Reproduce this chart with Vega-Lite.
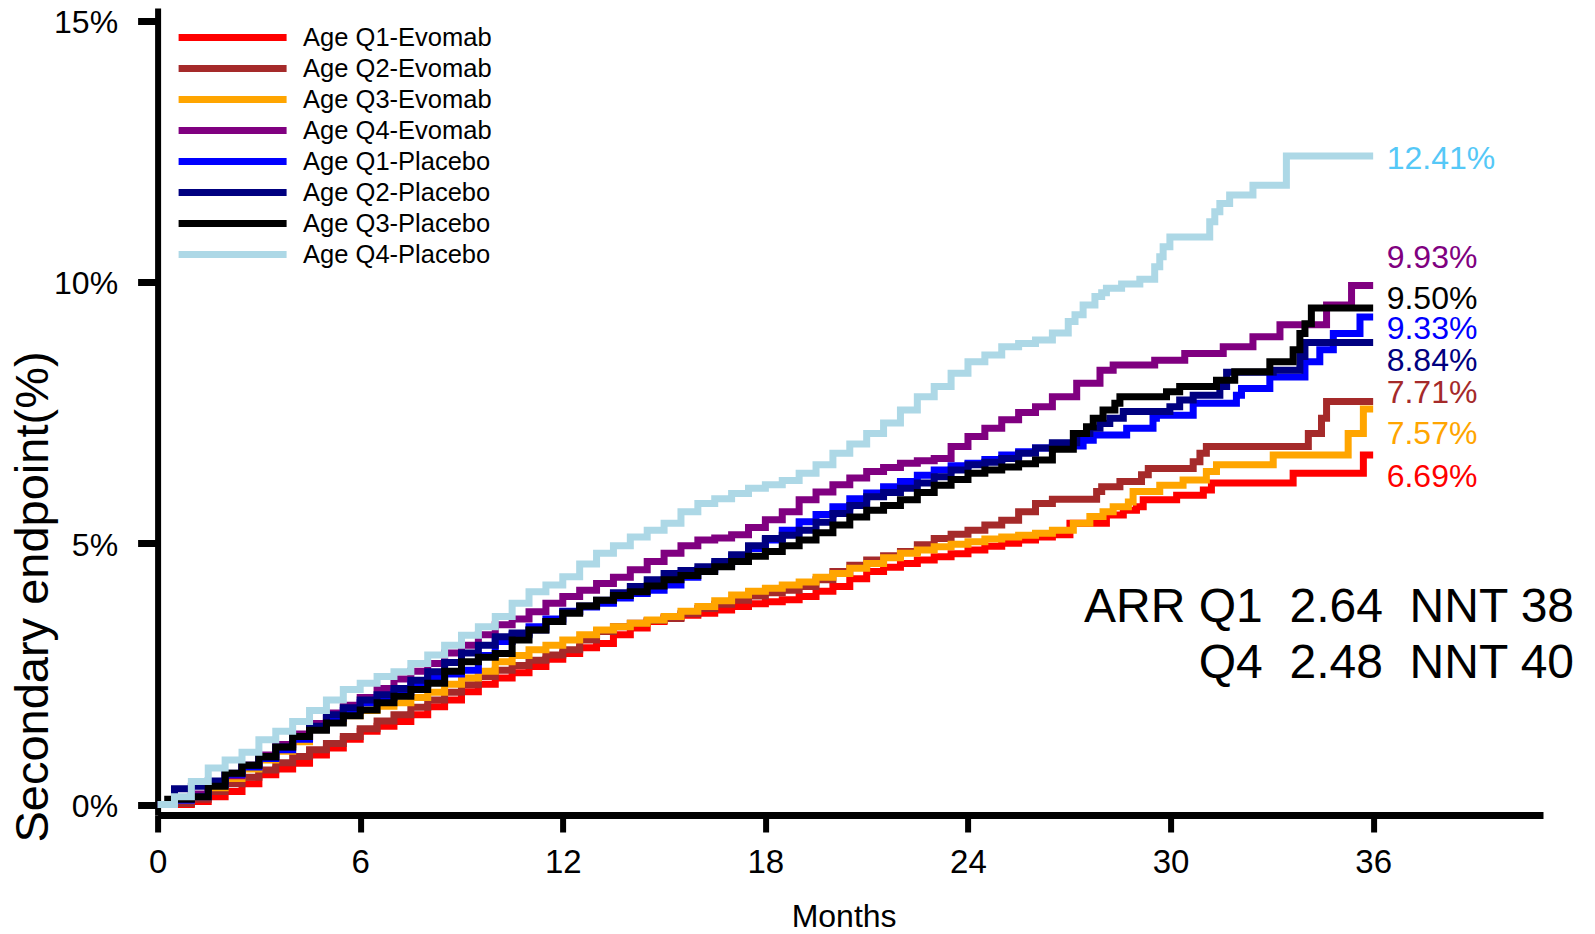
{
"$schema":"https://vega.github.io/schema/vega-lite/v6.json",
"width":1385.4,"height":807,
"autosize":{"type":"none"},
"padding":{"left":157.6,"top":8,"right":52,"bottom":119},
"config":{"font":"Liberation Sans","view":{"stroke":null},"axis":{"grid":false,"domainColor":"#000","tickColor":"#000","labelColor":"#000","titleColor":"#000","titleFontWeight":"normal"}},
"datasets":{
"curves":[
{"s":"Age Q1-Evomab","m":0,"p":0},{"s":"Age Q1-Evomab","m":0.5,"p":0},{"s":"Age Q1-Evomab","m":1,"p":0.06},{"s":"Age Q1-Evomab","m":1.5,"p":0.15},{"s":"Age Q1-Evomab","m":2,"p":0.25},{"s":"Age Q1-Evomab","m":2.5,"p":0.4},{"s":"Age Q1-Evomab","m":3,"p":0.57},{"s":"Age Q1-Evomab","m":3.5,"p":0.68},{"s":"Age Q1-Evomab","m":4,"p":0.79},{"s":"Age Q1-Evomab","m":4.5,"p":0.95},{"s":"Age Q1-Evomab","m":5,"p":1.08},{"s":"Age Q1-Evomab","m":5.5,"p":1.25},{"s":"Age Q1-Evomab","m":6,"p":1.4},{"s":"Age Q1-Evomab","m":6.5,"p":1.5},{"s":"Age Q1-Evomab","m":7,"p":1.59},{"s":"Age Q1-Evomab","m":7.5,"p":1.72},{"s":"Age Q1-Evomab","m":8,"p":1.87},{"s":"Age Q1-Evomab","m":8.5,"p":2.0},{"s":"Age Q1-Evomab","m":9,"p":2.16},{"s":"Age Q1-Evomab","m":9.5,"p":2.3},{"s":"Age Q1-Evomab","m":10,"p":2.42},{"s":"Age Q1-Evomab","m":10.5,"p":2.52},{"s":"Age Q1-Evomab","m":11,"p":2.64},{"s":"Age Q1-Evomab","m":11.5,"p":2.78},{"s":"Age Q1-Evomab","m":12,"p":2.89},{"s":"Age Q1-Evomab","m":12.5,"p":3.0},{"s":"Age Q1-Evomab","m":13,"p":3.08},{"s":"Age Q1-Evomab","m":13.5,"p":3.25},{"s":"Age Q1-Evomab","m":14,"p":3.38},{"s":"Age Q1-Evomab","m":14.5,"p":3.5},{"s":"Age Q1-Evomab","m":15,"p":3.58},{"s":"Age Q1-Evomab","m":15.5,"p":3.62},{"s":"Age Q1-Evomab","m":16,"p":3.66},{"s":"Age Q1-Evomab","m":16.5,"p":3.72},{"s":"Age Q1-Evomab","m":17,"p":3.79},{"s":"Age Q1-Evomab","m":17.5,"p":3.84},{"s":"Age Q1-Evomab","m":18,"p":3.88},{"s":"Age Q1-Evomab","m":18.5,"p":3.92},{"s":"Age Q1-Evomab","m":19,"p":3.98},{"s":"Age Q1-Evomab","m":19.5,"p":4.08},{"s":"Age Q1-Evomab","m":20,"p":4.17},{"s":"Age Q1-Evomab","m":20.5,"p":4.32},{"s":"Age Q1-Evomab","m":21,"p":4.46},{"s":"Age Q1-Evomab","m":21.5,"p":4.54},{"s":"Age Q1-Evomab","m":22,"p":4.61},{"s":"Age Q1-Evomab","m":22.5,"p":4.68},{"s":"Age Q1-Evomab","m":23,"p":4.74},{"s":"Age Q1-Evomab","m":23.5,"p":4.8},{"s":"Age Q1-Evomab","m":24,"p":4.87},{"s":"Age Q1-Evomab","m":24.5,"p":4.94},{"s":"Age Q1-Evomab","m":25,"p":5.0},{"s":"Age Q1-Evomab","m":25.5,"p":5.06},{"s":"Age Q1-Evomab","m":26,"p":5.12},{"s":"Age Q1-Evomab","m":26.5,"p":5.16},{"s":"Age Q1-Evomab","m":27.02,"p":5.38},{"s":"Age Q1-Evomab","m":28.1,"p":5.54},{"s":"Age Q1-Evomab","m":28.6,"p":5.63},{"s":"Age Q1-Evomab","m":28.99,"p":5.7},{"s":"Age Q1-Evomab","m":29.19,"p":5.83},{"s":"Age Q1-Evomab","m":30.18,"p":5.92},{"s":"Age Q1-Evomab","m":30.97,"p":6.02},{"s":"Age Q1-Evomab","m":31.21,"p":6.15},{"s":"Age Q1-Evomab","m":33.63,"p":6.34},{"s":"Age Q1-Evomab","m":35.71,"p":6.69},{"s":"Age Q1-Evomab","m":36,"p":6.69},
{"s":"Age Q2-Evomab","m":0,"p":0},{"s":"Age Q2-Evomab","m":0.5,"p":0.02},{"s":"Age Q2-Evomab","m":1,"p":0.1},{"s":"Age Q2-Evomab","m":1.5,"p":0.25},{"s":"Age Q2-Evomab","m":2,"p":0.4},{"s":"Age Q2-Evomab","m":2.5,"p":0.52},{"s":"Age Q2-Evomab","m":3,"p":0.66},{"s":"Age Q2-Evomab","m":3.5,"p":0.8},{"s":"Age Q2-Evomab","m":4,"p":0.92},{"s":"Age Q2-Evomab","m":4.5,"p":1.05},{"s":"Age Q2-Evomab","m":5,"p":1.17},{"s":"Age Q2-Evomab","m":5.5,"p":1.3},{"s":"Age Q2-Evomab","m":6,"p":1.45},{"s":"Age Q2-Evomab","m":6.5,"p":1.6},{"s":"Age Q2-Evomab","m":7,"p":1.72},{"s":"Age Q2-Evomab","m":7.5,"p":1.86},{"s":"Age Q2-Evomab","m":8,"p":2.0},{"s":"Age Q2-Evomab","m":8.5,"p":2.15},{"s":"Age Q2-Evomab","m":9,"p":2.29},{"s":"Age Q2-Evomab","m":9.5,"p":2.45},{"s":"Age Q2-Evomab","m":10,"p":2.57},{"s":"Age Q2-Evomab","m":10.5,"p":2.66},{"s":"Age Q2-Evomab","m":11,"p":2.76},{"s":"Age Q2-Evomab","m":11.5,"p":2.86},{"s":"Age Q2-Evomab","m":12,"p":2.96},{"s":"Age Q2-Evomab","m":12.5,"p":3.15},{"s":"Age Q2-Evomab","m":13,"p":3.31},{"s":"Age Q2-Evomab","m":13.5,"p":3.4},{"s":"Age Q2-Evomab","m":14,"p":3.47},{"s":"Age Q2-Evomab","m":14.5,"p":3.52},{"s":"Age Q2-Evomab","m":15,"p":3.56},{"s":"Age Q2-Evomab","m":15.5,"p":3.65},{"s":"Age Q2-Evomab","m":16,"p":3.75},{"s":"Age Q2-Evomab","m":16.5,"p":3.83},{"s":"Age Q2-Evomab","m":17,"p":3.91},{"s":"Age Q2-Evomab","m":17.5,"p":3.99},{"s":"Age Q2-Evomab","m":18,"p":4.05},{"s":"Age Q2-Evomab","m":18.5,"p":4.1},{"s":"Age Q2-Evomab","m":19,"p":4.17},{"s":"Age Q2-Evomab","m":19.5,"p":4.3},{"s":"Age Q2-Evomab","m":20,"p":4.46},{"s":"Age Q2-Evomab","m":20.5,"p":4.58},{"s":"Age Q2-Evomab","m":21,"p":4.68},{"s":"Age Q2-Evomab","m":21.5,"p":4.76},{"s":"Age Q2-Evomab","m":22,"p":4.84},{"s":"Age Q2-Evomab","m":22.5,"p":4.97},{"s":"Age Q2-Evomab","m":23,"p":5.09},{"s":"Age Q2-Evomab","m":23.5,"p":5.17},{"s":"Age Q2-Evomab","m":24,"p":5.25},{"s":"Age Q2-Evomab","m":24.5,"p":5.35},{"s":"Age Q2-Evomab","m":25,"p":5.44},{"s":"Age Q2-Evomab","m":25.5,"p":5.6},{"s":"Age Q2-Evomab","m":26,"p":5.76},{"s":"Age Q2-Evomab","m":26.5,"p":5.84},{"s":"Age Q2-Evomab","m":27.81,"p":5.99},{"s":"Age Q2-Evomab","m":27.96,"p":6.08},{"s":"Age Q2-Evomab","m":28.5,"p":6.18},{"s":"Age Q2-Evomab","m":29.14,"p":6.31},{"s":"Age Q2-Evomab","m":29.34,"p":6.43},{"s":"Age Q2-Evomab","m":30.67,"p":6.56},{"s":"Age Q2-Evomab","m":30.87,"p":6.72},{"s":"Age Q2-Evomab","m":31.06,"p":6.85},{"s":"Age Q2-Evomab","m":34.08,"p":7.1},{"s":"Age Q2-Evomab","m":34.47,"p":7.39},{"s":"Age Q2-Evomab","m":34.62,"p":7.71},{"s":"Age Q2-Evomab","m":36,"p":7.71},
{"s":"Age Q3-Evomab","m":0,"p":0},{"s":"Age Q3-Evomab","m":0.5,"p":0.08},{"s":"Age Q3-Evomab","m":1,"p":0.15},{"s":"Age Q3-Evomab","m":1.5,"p":0.32},{"s":"Age Q3-Evomab","m":2,"p":0.5},{"s":"Age Q3-Evomab","m":2.5,"p":0.68},{"s":"Age Q3-Evomab","m":3,"p":0.85},{"s":"Age Q3-Evomab","m":3.5,"p":1.02},{"s":"Age Q3-Evomab","m":4,"p":1.2},{"s":"Age Q3-Evomab","m":4.5,"p":1.45},{"s":"Age Q3-Evomab","m":5,"p":1.6},{"s":"Age Q3-Evomab","m":5.5,"p":1.7},{"s":"Age Q3-Evomab","m":6,"p":1.8},{"s":"Age Q3-Evomab","m":6.5,"p":1.88},{"s":"Age Q3-Evomab","m":7,"p":1.95},{"s":"Age Q3-Evomab","m":7.5,"p":2.05},{"s":"Age Q3-Evomab","m":8,"p":2.15},{"s":"Age Q3-Evomab","m":8.5,"p":2.3},{"s":"Age Q3-Evomab","m":9,"p":2.42},{"s":"Age Q3-Evomab","m":9.5,"p":2.55},{"s":"Age Q3-Evomab","m":10,"p":2.73},{"s":"Age Q3-Evomab","m":10.5,"p":2.85},{"s":"Age Q3-Evomab","m":11,"p":2.96},{"s":"Age Q3-Evomab","m":11.5,"p":3.05},{"s":"Age Q3-Evomab","m":12,"p":3.15},{"s":"Age Q3-Evomab","m":12.5,"p":3.25},{"s":"Age Q3-Evomab","m":13,"p":3.34},{"s":"Age Q3-Evomab","m":13.5,"p":3.4},{"s":"Age Q3-Evomab","m":14,"p":3.47},{"s":"Age Q3-Evomab","m":14.5,"p":3.53},{"s":"Age Q3-Evomab","m":15,"p":3.6},{"s":"Age Q3-Evomab","m":15.5,"p":3.7},{"s":"Age Q3-Evomab","m":16,"p":3.79},{"s":"Age Q3-Evomab","m":16.5,"p":3.9},{"s":"Age Q3-Evomab","m":17,"p":4.01},{"s":"Age Q3-Evomab","m":17.5,"p":4.08},{"s":"Age Q3-Evomab","m":18,"p":4.14},{"s":"Age Q3-Evomab","m":18.5,"p":4.2},{"s":"Age Q3-Evomab","m":19,"p":4.26},{"s":"Age Q3-Evomab","m":19.5,"p":4.35},{"s":"Age Q3-Evomab","m":20,"p":4.42},{"s":"Age Q3-Evomab","m":20.5,"p":4.52},{"s":"Age Q3-Evomab","m":21,"p":4.61},{"s":"Age Q3-Evomab","m":21.5,"p":4.72},{"s":"Age Q3-Evomab","m":22,"p":4.81},{"s":"Age Q3-Evomab","m":22.5,"p":4.87},{"s":"Age Q3-Evomab","m":23,"p":4.93},{"s":"Age Q3-Evomab","m":23.5,"p":4.98},{"s":"Age Q3-Evomab","m":24,"p":5.03},{"s":"Age Q3-Evomab","m":24.5,"p":5.08},{"s":"Age Q3-Evomab","m":25,"p":5.12},{"s":"Age Q3-Evomab","m":25.5,"p":5.15},{"s":"Age Q3-Evomab","m":26,"p":5.19},{"s":"Age Q3-Evomab","m":26.5,"p":5.25},{"s":"Age Q3-Evomab","m":27.12,"p":5.38},{"s":"Age Q3-Evomab","m":27.61,"p":5.51},{"s":"Age Q3-Evomab","m":28.0,"p":5.6},{"s":"Age Q3-Evomab","m":28.3,"p":5.7},{"s":"Age Q3-Evomab","m":28.75,"p":5.79},{"s":"Age Q3-Evomab","m":28.89,"p":5.99},{"s":"Age Q3-Evomab","m":29.68,"p":6.11},{"s":"Age Q3-Evomab","m":30.37,"p":6.21},{"s":"Age Q3-Evomab","m":31.06,"p":6.37},{"s":"Age Q3-Evomab","m":31.36,"p":6.5},{"s":"Age Q3-Evomab","m":33.04,"p":6.69},{"s":"Age Q3-Evomab","m":35.26,"p":7.1},{"s":"Age Q3-Evomab","m":35.71,"p":7.57},{"s":"Age Q3-Evomab","m":36,"p":7.57},
{"s":"Age Q4-Evomab","m":0,"p":0},{"s":"Age Q4-Evomab","m":0.5,"p":0.1},{"s":"Age Q4-Evomab","m":1,"p":0.2},{"s":"Age Q4-Evomab","m":1.5,"p":0.4},{"s":"Age Q4-Evomab","m":2,"p":0.55},{"s":"Age Q4-Evomab","m":2.5,"p":0.75},{"s":"Age Q4-Evomab","m":3,"p":0.95},{"s":"Age Q4-Evomab","m":3.5,"p":1.15},{"s":"Age Q4-Evomab","m":4,"p":1.35},{"s":"Age Q4-Evomab","m":4.5,"p":1.55},{"s":"Age Q4-Evomab","m":5,"p":1.75},{"s":"Age Q4-Evomab","m":5.5,"p":1.9},{"s":"Age Q4-Evomab","m":6,"p":2.05},{"s":"Age Q4-Evomab","m":6.5,"p":2.22},{"s":"Age Q4-Evomab","m":7,"p":2.4},{"s":"Age Q4-Evomab","m":7.5,"p":2.55},{"s":"Age Q4-Evomab","m":8,"p":2.7},{"s":"Age Q4-Evomab","m":8.5,"p":2.9},{"s":"Age Q4-Evomab","m":9,"p":3.05},{"s":"Age Q4-Evomab","m":9.5,"p":3.25},{"s":"Age Q4-Evomab","m":10,"p":3.44},{"s":"Age Q4-Evomab","m":10.5,"p":3.55},{"s":"Age Q4-Evomab","m":11,"p":3.69},{"s":"Age Q4-Evomab","m":11.5,"p":3.85},{"s":"Age Q4-Evomab","m":12,"p":3.98},{"s":"Age Q4-Evomab","m":12.5,"p":4.1},{"s":"Age Q4-Evomab","m":13,"p":4.23},{"s":"Age Q4-Evomab","m":13.5,"p":4.35},{"s":"Age Q4-Evomab","m":14,"p":4.49},{"s":"Age Q4-Evomab","m":14.5,"p":4.65},{"s":"Age Q4-Evomab","m":15,"p":4.81},{"s":"Age Q4-Evomab","m":15.5,"p":4.95},{"s":"Age Q4-Evomab","m":16,"p":5.06},{"s":"Age Q4-Evomab","m":16.5,"p":5.1},{"s":"Age Q4-Evomab","m":17,"p":5.16},{"s":"Age Q4-Evomab","m":17.5,"p":5.3},{"s":"Age Q4-Evomab","m":18,"p":5.45},{"s":"Age Q4-Evomab","m":18.5,"p":5.6},{"s":"Age Q4-Evomab","m":19,"p":5.83},{"s":"Age Q4-Evomab","m":19.5,"p":5.98},{"s":"Age Q4-Evomab","m":20,"p":6.12},{"s":"Age Q4-Evomab","m":20.5,"p":6.25},{"s":"Age Q4-Evomab","m":21,"p":6.37},{"s":"Age Q4-Evomab","m":21.5,"p":6.45},{"s":"Age Q4-Evomab","m":22,"p":6.53},{"s":"Age Q4-Evomab","m":22.5,"p":6.58},{"s":"Age Q4-Evomab","m":23,"p":6.62},{"s":"Age Q4-Evomab","m":23.5,"p":6.85},{"s":"Age Q4-Evomab","m":24,"p":7.04},{"s":"Age Q4-Evomab","m":24.5,"p":7.2},{"s":"Age Q4-Evomab","m":25,"p":7.36},{"s":"Age Q4-Evomab","m":25.5,"p":7.5},{"s":"Age Q4-Evomab","m":26,"p":7.61},{"s":"Age Q4-Evomab","m":26.5,"p":7.8},{"s":"Age Q4-Evomab","m":27.22,"p":8.06},{"s":"Age Q4-Evomab","m":27.91,"p":8.31},{"s":"Age Q4-Evomab","m":28.3,"p":8.41},{"s":"Age Q4-Evomab","m":29.53,"p":8.5},{"s":"Age Q4-Evomab","m":30.42,"p":8.63},{"s":"Age Q4-Evomab","m":31.56,"p":8.76},{"s":"Age Q4-Evomab","m":32.44,"p":8.95},{"s":"Age Q4-Evomab","m":33.24,"p":9.18},{"s":"Age Q4-Evomab","m":34.62,"p":9.56},{"s":"Age Q4-Evomab","m":35.36,"p":9.93},{"s":"Age Q4-Evomab","m":36,"p":9.93},
{"s":"Age Q1-Placebo","m":0,"p":0},{"s":"Age Q1-Placebo","m":0.5,"p":0.08},{"s":"Age Q1-Placebo","m":1,"p":0.15},{"s":"Age Q1-Placebo","m":1.5,"p":0.38},{"s":"Age Q1-Placebo","m":2,"p":0.58},{"s":"Age Q1-Placebo","m":2.5,"p":0.72},{"s":"Age Q1-Placebo","m":3,"p":0.88},{"s":"Age Q1-Placebo","m":3.5,"p":1.05},{"s":"Age Q1-Placebo","m":4,"p":1.25},{"s":"Age Q1-Placebo","m":4.5,"p":1.45},{"s":"Age Q1-Placebo","m":5,"p":1.65},{"s":"Age Q1-Placebo","m":5.5,"p":1.8},{"s":"Age Q1-Placebo","m":6,"p":1.95},{"s":"Age Q1-Placebo","m":6.5,"p":2.05},{"s":"Age Q1-Placebo","m":7,"p":2.15},{"s":"Age Q1-Placebo","m":7.5,"p":2.3},{"s":"Age Q1-Placebo","m":8,"p":2.42},{"s":"Age Q1-Placebo","m":8.5,"p":2.5},{"s":"Age Q1-Placebo","m":9,"p":2.57},{"s":"Age Q1-Placebo","m":9.5,"p":2.85},{"s":"Age Q1-Placebo","m":10,"p":3.12},{"s":"Age Q1-Placebo","m":10.5,"p":3.25},{"s":"Age Q1-Placebo","m":11,"p":3.4},{"s":"Age Q1-Placebo","m":11.5,"p":3.55},{"s":"Age Q1-Placebo","m":12,"p":3.7},{"s":"Age Q1-Placebo","m":12.5,"p":3.78},{"s":"Age Q1-Placebo","m":13,"p":3.85},{"s":"Age Q1-Placebo","m":13.5,"p":3.95},{"s":"Age Q1-Placebo","m":14,"p":4.04},{"s":"Age Q1-Placebo","m":14.5,"p":4.1},{"s":"Age Q1-Placebo","m":15,"p":4.2},{"s":"Age Q1-Placebo","m":15.5,"p":4.35},{"s":"Age Q1-Placebo","m":16,"p":4.49},{"s":"Age Q1-Placebo","m":16.5,"p":4.6},{"s":"Age Q1-Placebo","m":17,"p":4.74},{"s":"Age Q1-Placebo","m":17.5,"p":4.9},{"s":"Age Q1-Placebo","m":18,"p":5.06},{"s":"Age Q1-Placebo","m":18.5,"p":5.25},{"s":"Age Q1-Placebo","m":19,"p":5.41},{"s":"Age Q1-Placebo","m":19.5,"p":5.55},{"s":"Age Q1-Placebo","m":20,"p":5.7},{"s":"Age Q1-Placebo","m":20.5,"p":5.85},{"s":"Age Q1-Placebo","m":21,"p":5.96},{"s":"Age Q1-Placebo","m":21.5,"p":6.08},{"s":"Age Q1-Placebo","m":22,"p":6.18},{"s":"Age Q1-Placebo","m":22.5,"p":6.3},{"s":"Age Q1-Placebo","m":23,"p":6.4},{"s":"Age Q1-Placebo","m":23.5,"p":6.48},{"s":"Age Q1-Placebo","m":24,"p":6.53},{"s":"Age Q1-Placebo","m":24.5,"p":6.6},{"s":"Age Q1-Placebo","m":25,"p":6.69},{"s":"Age Q1-Placebo","m":25.5,"p":6.75},{"s":"Age Q1-Placebo","m":26,"p":6.82},{"s":"Age Q1-Placebo","m":26.5,"p":6.86},{"s":"Age Q1-Placebo","m":27.41,"p":6.97},{"s":"Age Q1-Placebo","m":27.71,"p":7.07},{"s":"Age Q1-Placebo","m":28.7,"p":7.2},{"s":"Age Q1-Placebo","m":29.48,"p":7.39},{"s":"Age Q1-Placebo","m":29.58,"p":7.45},{"s":"Age Q1-Placebo","m":30.67,"p":7.68},{"s":"Age Q1-Placebo","m":31.95,"p":7.83},{"s":"Age Q1-Placebo","m":32.1,"p":7.96},{"s":"Age Q1-Placebo","m":32.94,"p":8.18},{"s":"Age Q1-Placebo","m":33.98,"p":8.47},{"s":"Age Q1-Placebo","m":34.42,"p":8.7},{"s":"Age Q1-Placebo","m":34.82,"p":9.01},{"s":"Age Q1-Placebo","m":35.61,"p":9.33},{"s":"Age Q1-Placebo","m":36,"p":9.33},
{"s":"Age Q2-Placebo","m":0,"p":0},{"s":"Age Q2-Placebo","m":0.5,"p":0.3},{"s":"Age Q2-Placebo","m":1,"p":0.35},{"s":"Age Q2-Placebo","m":1.5,"p":0.45},{"s":"Age Q2-Placebo","m":2,"p":0.6},{"s":"Age Q2-Placebo","m":2.5,"p":0.75},{"s":"Age Q2-Placebo","m":3,"p":0.9},{"s":"Age Q2-Placebo","m":3.5,"p":1.1},{"s":"Age Q2-Placebo","m":4,"p":1.3},{"s":"Age Q2-Placebo","m":4.5,"p":1.5},{"s":"Age Q2-Placebo","m":5,"p":1.72},{"s":"Age Q2-Placebo","m":5.5,"p":1.85},{"s":"Age Q2-Placebo","m":6,"p":2.0},{"s":"Age Q2-Placebo","m":6.5,"p":2.1},{"s":"Age Q2-Placebo","m":7,"p":2.22},{"s":"Age Q2-Placebo","m":7.5,"p":2.38},{"s":"Age Q2-Placebo","m":8,"p":2.54},{"s":"Age Q2-Placebo","m":8.5,"p":2.72},{"s":"Age Q2-Placebo","m":9,"p":2.9},{"s":"Age Q2-Placebo","m":9.5,"p":3.05},{"s":"Age Q2-Placebo","m":10,"p":3.21},{"s":"Age Q2-Placebo","m":10.5,"p":3.28},{"s":"Age Q2-Placebo","m":11,"p":3.34},{"s":"Age Q2-Placebo","m":11.5,"p":3.5},{"s":"Age Q2-Placebo","m":12,"p":3.69},{"s":"Age Q2-Placebo","m":12.5,"p":3.8},{"s":"Age Q2-Placebo","m":13,"p":3.91},{"s":"Age Q2-Placebo","m":13.5,"p":4.05},{"s":"Age Q2-Placebo","m":14,"p":4.17},{"s":"Age Q2-Placebo","m":14.5,"p":4.3},{"s":"Age Q2-Placebo","m":15,"p":4.42},{"s":"Age Q2-Placebo","m":15.5,"p":4.48},{"s":"Age Q2-Placebo","m":16,"p":4.55},{"s":"Age Q2-Placebo","m":16.5,"p":4.65},{"s":"Age Q2-Placebo","m":17,"p":4.78},{"s":"Age Q2-Placebo","m":17.5,"p":4.95},{"s":"Age Q2-Placebo","m":18,"p":5.09},{"s":"Age Q2-Placebo","m":18.5,"p":5.15},{"s":"Age Q2-Placebo","m":19,"p":5.25},{"s":"Age Q2-Placebo","m":19.5,"p":5.4},{"s":"Age Q2-Placebo","m":20,"p":5.57},{"s":"Age Q2-Placebo","m":20.5,"p":5.72},{"s":"Age Q2-Placebo","m":21,"p":5.89},{"s":"Age Q2-Placebo","m":21.5,"p":5.97},{"s":"Age Q2-Placebo","m":22,"p":6.05},{"s":"Age Q2-Placebo","m":22.5,"p":6.15},{"s":"Age Q2-Placebo","m":23,"p":6.27},{"s":"Age Q2-Placebo","m":23.5,"p":6.4},{"s":"Age Q2-Placebo","m":24,"p":6.5},{"s":"Age Q2-Placebo","m":24.5,"p":6.55},{"s":"Age Q2-Placebo","m":25,"p":6.62},{"s":"Age Q2-Placebo","m":25.5,"p":6.72},{"s":"Age Q2-Placebo","m":26,"p":6.82},{"s":"Age Q2-Placebo","m":26.5,"p":6.92},{"s":"Age Q2-Placebo","m":27.22,"p":7.1},{"s":"Age Q2-Placebo","m":27.61,"p":7.2},{"s":"Age Q2-Placebo","m":27.91,"p":7.29},{"s":"Age Q2-Placebo","m":28.2,"p":7.39},{"s":"Age Q2-Placebo","m":28.6,"p":7.52},{"s":"Age Q2-Placebo","m":29.98,"p":7.61},{"s":"Age Q2-Placebo","m":30.27,"p":7.74},{"s":"Age Q2-Placebo","m":30.67,"p":7.83},{"s":"Age Q2-Placebo","m":31.46,"p":8.0},{"s":"Age Q2-Placebo","m":31.66,"p":8.27},{"s":"Age Q2-Placebo","m":33.04,"p":8.31},{"s":"Age Q2-Placebo","m":33.83,"p":8.57},{"s":"Age Q2-Placebo","m":33.98,"p":8.84},{"s":"Age Q2-Placebo","m":36,"p":8.84},
{"s":"Age Q3-Placebo","m":0,"p":0},{"s":"Age Q3-Placebo","m":0.3,"p":0.1},{"s":"Age Q3-Placebo","m":1,"p":0.15},{"s":"Age Q3-Placebo","m":1.5,"p":0.35},{"s":"Age Q3-Placebo","m":2,"p":0.6},{"s":"Age Q3-Placebo","m":2.5,"p":0.75},{"s":"Age Q3-Placebo","m":3,"p":0.92},{"s":"Age Q3-Placebo","m":3.5,"p":1.1},{"s":"Age Q3-Placebo","m":4,"p":1.3},{"s":"Age Q3-Placebo","m":4.5,"p":1.42},{"s":"Age Q3-Placebo","m":5,"p":1.56},{"s":"Age Q3-Placebo","m":5.5,"p":1.7},{"s":"Age Q3-Placebo","m":6,"p":1.81},{"s":"Age Q3-Placebo","m":6.5,"p":1.95},{"s":"Age Q3-Placebo","m":7,"p":2.07},{"s":"Age Q3-Placebo","m":7.5,"p":2.2},{"s":"Age Q3-Placebo","m":8,"p":2.32},{"s":"Age Q3-Placebo","m":8.5,"p":2.55},{"s":"Age Q3-Placebo","m":9,"p":2.73},{"s":"Age Q3-Placebo","m":9.5,"p":2.82},{"s":"Age Q3-Placebo","m":10,"p":2.89},{"s":"Age Q3-Placebo","m":10.5,"p":3.15},{"s":"Age Q3-Placebo","m":11,"p":3.34},{"s":"Age Q3-Placebo","m":11.5,"p":3.5},{"s":"Age Q3-Placebo","m":12,"p":3.66},{"s":"Age Q3-Placebo","m":12.5,"p":3.8},{"s":"Age Q3-Placebo","m":13,"p":3.91},{"s":"Age Q3-Placebo","m":13.5,"p":4.0},{"s":"Age Q3-Placebo","m":14,"p":4.07},{"s":"Age Q3-Placebo","m":14.5,"p":4.18},{"s":"Age Q3-Placebo","m":15,"p":4.3},{"s":"Age Q3-Placebo","m":15.5,"p":4.38},{"s":"Age Q3-Placebo","m":16,"p":4.46},{"s":"Age Q3-Placebo","m":16.5,"p":4.55},{"s":"Age Q3-Placebo","m":17,"p":4.65},{"s":"Age Q3-Placebo","m":17.5,"p":4.75},{"s":"Age Q3-Placebo","m":18,"p":4.84},{"s":"Age Q3-Placebo","m":18.5,"p":4.95},{"s":"Age Q3-Placebo","m":19,"p":5.06},{"s":"Age Q3-Placebo","m":19.5,"p":5.2},{"s":"Age Q3-Placebo","m":20,"p":5.35},{"s":"Age Q3-Placebo","m":20.5,"p":5.5},{"s":"Age Q3-Placebo","m":21,"p":5.63},{"s":"Age Q3-Placebo","m":21.5,"p":5.72},{"s":"Age Q3-Placebo","m":22,"p":5.83},{"s":"Age Q3-Placebo","m":22.5,"p":5.97},{"s":"Age Q3-Placebo","m":23,"p":6.11},{"s":"Age Q3-Placebo","m":23.5,"p":6.22},{"s":"Age Q3-Placebo","m":24,"p":6.34},{"s":"Age Q3-Placebo","m":24.5,"p":6.4},{"s":"Age Q3-Placebo","m":25,"p":6.46},{"s":"Age Q3-Placebo","m":25.5,"p":6.52},{"s":"Age Q3-Placebo","m":26,"p":6.59},{"s":"Age Q3-Placebo","m":26.5,"p":6.8},{"s":"Age Q3-Placebo","m":27.12,"p":7.1},{"s":"Age Q3-Placebo","m":27.51,"p":7.23},{"s":"Age Q3-Placebo","m":27.71,"p":7.39},{"s":"Age Q3-Placebo","m":28.0,"p":7.55},{"s":"Age Q3-Placebo","m":28.35,"p":7.68},{"s":"Age Q3-Placebo","m":28.5,"p":7.8},{"s":"Age Q3-Placebo","m":29.88,"p":7.9},{"s":"Age Q3-Placebo","m":30.27,"p":8.0},{"s":"Age Q3-Placebo","m":31.36,"p":8.12},{"s":"Age Q3-Placebo","m":31.9,"p":8.28},{"s":"Age Q3-Placebo","m":32.94,"p":8.47},{"s":"Age Q3-Placebo","m":33.63,"p":8.7},{"s":"Age Q3-Placebo","m":33.83,"p":9.01},{"s":"Age Q3-Placebo","m":33.98,"p":9.2},{"s":"Age Q3-Placebo","m":34.17,"p":9.5},{"s":"Age Q3-Placebo","m":36,"p":9.5},
{"s":"Age Q4-Placebo","m":0,"p":0},{"s":"Age Q4-Placebo","m":0.5,"p":0.15},{"s":"Age Q4-Placebo","m":1,"p":0.44},{"s":"Age Q4-Placebo","m":1.5,"p":0.7},{"s":"Age Q4-Placebo","m":2,"p":0.85},{"s":"Age Q4-Placebo","m":2.5,"p":1.0},{"s":"Age Q4-Placebo","m":3,"p":1.24},{"s":"Age Q4-Placebo","m":3.5,"p":1.4},{"s":"Age Q4-Placebo","m":4,"p":1.59},{"s":"Age Q4-Placebo","m":4.5,"p":1.8},{"s":"Age Q4-Placebo","m":5,"p":2.0},{"s":"Age Q4-Placebo","m":5.5,"p":2.2},{"s":"Age Q4-Placebo","m":6,"p":2.32},{"s":"Age Q4-Placebo","m":6.5,"p":2.45},{"s":"Age Q4-Placebo","m":7,"p":2.54},{"s":"Age Q4-Placebo","m":7.5,"p":2.7},{"s":"Age Q4-Placebo","m":8,"p":2.86},{"s":"Age Q4-Placebo","m":8.5,"p":3.05},{"s":"Age Q4-Placebo","m":9,"p":3.24},{"s":"Age Q4-Placebo","m":9.5,"p":3.4},{"s":"Age Q4-Placebo","m":10,"p":3.6},{"s":"Age Q4-Placebo","m":10.5,"p":3.85},{"s":"Age Q4-Placebo","m":11,"p":4.07},{"s":"Age Q4-Placebo","m":11.5,"p":4.2},{"s":"Age Q4-Placebo","m":12,"p":4.36},{"s":"Age Q4-Placebo","m":12.5,"p":4.6},{"s":"Age Q4-Placebo","m":13,"p":4.81},{"s":"Age Q4-Placebo","m":13.5,"p":4.95},{"s":"Age Q4-Placebo","m":14,"p":5.12},{"s":"Age Q4-Placebo","m":14.5,"p":5.25},{"s":"Age Q4-Placebo","m":15,"p":5.38},{"s":"Age Q4-Placebo","m":15.5,"p":5.6},{"s":"Age Q4-Placebo","m":16,"p":5.76},{"s":"Age Q4-Placebo","m":16.5,"p":5.85},{"s":"Age Q4-Placebo","m":17,"p":5.95},{"s":"Age Q4-Placebo","m":17.5,"p":6.05},{"s":"Age Q4-Placebo","m":18,"p":6.12},{"s":"Age Q4-Placebo","m":18.5,"p":6.2},{"s":"Age Q4-Placebo","m":19,"p":6.34},{"s":"Age Q4-Placebo","m":19.5,"p":6.5},{"s":"Age Q4-Placebo","m":20,"p":6.72},{"s":"Age Q4-Placebo","m":20.5,"p":6.9},{"s":"Age Q4-Placebo","m":21,"p":7.1},{"s":"Age Q4-Placebo","m":21.5,"p":7.3},{"s":"Age Q4-Placebo","m":22,"p":7.55},{"s":"Age Q4-Placebo","m":22.5,"p":7.8},{"s":"Age Q4-Placebo","m":23,"p":8.0},{"s":"Age Q4-Placebo","m":23.5,"p":8.25},{"s":"Age Q4-Placebo","m":24,"p":8.47},{"s":"Age Q4-Placebo","m":24.5,"p":8.6},{"s":"Age Q4-Placebo","m":25,"p":8.76},{"s":"Age Q4-Placebo","m":25.5,"p":8.82},{"s":"Age Q4-Placebo","m":26,"p":8.89},{"s":"Age Q4-Placebo","m":26.5,"p":9.02},{"s":"Age Q4-Placebo","m":26.97,"p":9.24},{"s":"Age Q4-Placebo","m":27.17,"p":9.37},{"s":"Age Q4-Placebo","m":27.41,"p":9.56},{"s":"Age Q4-Placebo","m":27.76,"p":9.72},{"s":"Age Q4-Placebo","m":27.96,"p":9.79},{"s":"Age Q4-Placebo","m":28.1,"p":9.88},{"s":"Age Q4-Placebo","m":28.55,"p":9.96},{"s":"Age Q4-Placebo","m":29.09,"p":10.05},{"s":"Age Q4-Placebo","m":29.53,"p":10.29},{"s":"Age Q4-Placebo","m":29.68,"p":10.48},{"s":"Age Q4-Placebo","m":29.78,"p":10.67},{"s":"Age Q4-Placebo","m":29.98,"p":10.86},{"s":"Age Q4-Placebo","m":31.16,"p":11.15},{"s":"Age Q4-Placebo","m":31.31,"p":11.34},{"s":"Age Q4-Placebo","m":31.46,"p":11.5},{"s":"Age Q4-Placebo","m":31.75,"p":11.66},{"s":"Age Q4-Placebo","m":32.44,"p":11.85},{"s":"Age Q4-Placebo","m":33.43,"p":12.41},{"s":"Age Q4-Placebo","m":36,"p":12.41}
],
"labels":[
{"s":"Age Q4-Placebo","t":"12.41%","p":12.16},
{"s":"Age Q4-Evomab","t":"9.93%","p":10.27},
{"s":"Age Q3-Placebo","t":"9.50%","p":9.48},
{"s":"Age Q1-Placebo","t":"9.33%","p":8.9},
{"s":"Age Q2-Placebo","t":"8.84%","p":8.3},
{"s":"Age Q2-Evomab","t":"7.71%","p":7.68},
{"s":"Age Q3-Evomab","t":"7.57%","p":6.9},
{"s":"Age Q1-Evomab","t":"6.69%","p":6.08}
],
"notes":[
{"t":"ARR Q1\u00a0\u00a02.64\u00a0\u00a0NNT 38","p":3.49},
{"t":"Q4\u00a0\u00a02.48\u00a0\u00a0NNT 40","p":2.42}
]
},
"layer":[
{"data":{"name":"curves"},
 "mark":{"type":"line","interpolate":"step-after","strokeWidth":7,"strokeJoin":"miter","strokeCap":"butt","clip":false},
 "encoding":{
  "x":{"field":"m","type":"quantitative","scale":{"domain":[0,41.03],"nice":false,"zero":false},
       "axis":{"values":[0,6,12,18,24,30,36],"title":"Months","titleFontSize":32,"titleX":686,"titleY":111,"titleBaseline":"alphabetic","titleAlign":"center","labelFontSize":33,"labelPadding":14,"tickSize":17,"tickWidth":6,"domainWidth":7,"labelFlush":false,"labelOverlap":false}},
  "y":{"field":"p","type":"quantitative","scale":{"domain":[-0.2,15.24],"nice":false,"zero":false},
       "axis":{"values":[0,5,10,15],"labelExpr":"datum.value + '%'","title":"Secondary endpoint(%)","titleFontSize":47,"titleAngle":-90,"titleX":-110,"titleY":588.5,"titleAlign":"center","titleBaseline":"alphabetic","labelFontSize":32,"labelPadding":20,"tickSize":20,"tickWidth":7,"domainWidth":6,"labelOffset":2}},
  "color":{"field":"s","type":"nominal",
       "scale":{"domain":["Age Q1-Evomab","Age Q2-Evomab","Age Q3-Evomab","Age Q4-Evomab","Age Q1-Placebo","Age Q2-Placebo","Age Q3-Placebo","Age Q4-Placebo"],"range":["#FF0000","#A52A2A","#FFA500","#800080","#0000FF","#000080","#000000","#ADD8E6"]},
       "legend":{"orient":"none","legendX":17.5,"legendY":14,"title":null,"symbolType":"stroke","symbolSize":11664,"symbolStrokeWidth":7,"labelFontSize":25.5,"labelOffset":13,"clipHeight":31,"rowPadding":0,"padding":0,"labelColor":"#000","labelLimit":400}}
 }},
{"data":{"name":"labels"},
 "mark":{"type":"text","align":"left","baseline":"alphabetic","fontSize":32},
 "encoding":{
  "x":{"datum":36.4,"type":"quantitative"},
  "y":{"field":"p","type":"quantitative"},
  "text":{"field":"t"},
  "color":{"field":"s","type":"nominal",
       "scale":{"domain":["Age Q1-Evomab","Age Q2-Evomab","Age Q3-Evomab","Age Q4-Evomab","Age Q1-Placebo","Age Q2-Placebo","Age Q3-Placebo","Age Q4-Placebo"],"range":["#FF0000","#A52A2A","#FFA500","#800080","#0000FF","#000080","#000000","#55C8F7"]},
       "legend":null}
 }},
{"data":{"name":"notes"},
 "mark":{"type":"text","align":"right","baseline":"alphabetic","fontSize":48,"color":"#000"},
 "encoding":{
  "x":{"datum":41.95,"type":"quantitative"},
  "y":{"field":"p","type":"quantitative"},
  "text":{"field":"t"}
 }}
],
"resolve":{"scale":{"color":"independent"}}
}
